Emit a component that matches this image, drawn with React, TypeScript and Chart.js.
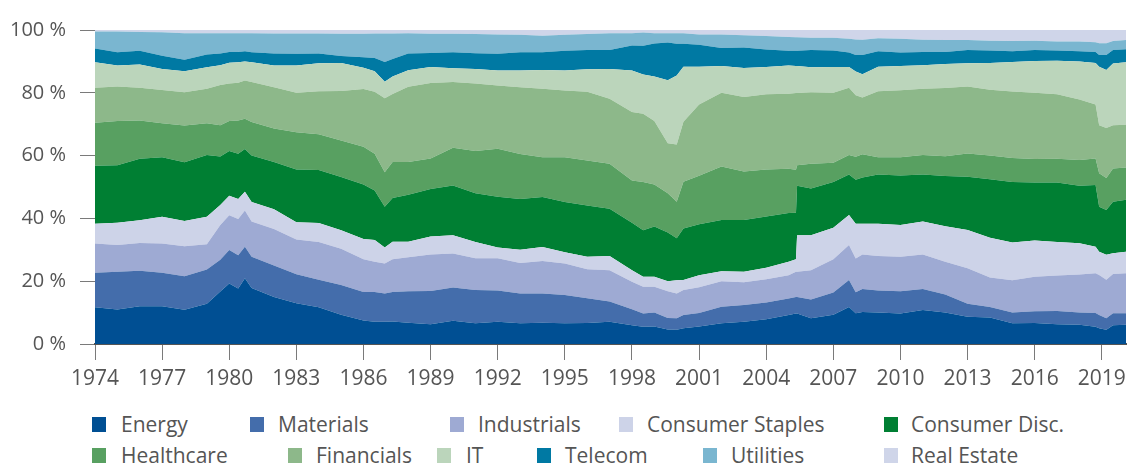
import React, { useEffect, useRef } from "react";
import { Chart, registerables } from "chart.js";

Chart.register(...registerables);

// Time points (decimal years)
const YEARS = [
  1974.0, 1975.0, 1976.0, 1977.0, 1978.0, 1979.0, 1979.6, 1980.0, 1980.4, 1980.7,
  1981.0, 1982.0, 1983.0, 1984.0, 1985.0, 1986.0, 1986.5, 1986.95, 1987.3, 1988.0,
  1989.0, 1990.0, 1991.0, 1992.0, 1993.0, 1994.0, 1995.0, 1996.0, 1997.0, 1998.0,
  1998.5, 1999.0, 1999.6, 2000.0, 2000.3, 2001.0, 2002.0, 2003.0, 2004.0, 2005.0,
  2005.33, 2005.38, 2006.0, 2007.0, 2007.7, 2008.0, 2008.3, 2009.0, 2010.0, 2011.0,
  2012.0, 2013.0, 2014.0, 2015.0, 2016.0, 2017.0, 2018.0, 2018.72, 2018.88, 2019.2,
  2019.5, 2020.08,
];

// Sector weights in %
const ENERGY = [
  11.7, 11.0, 12.0, 12.0, 10.9, 12.8, 16.7, 19.3, 17.7, 20.9,
  17.8, 15.0, 13.0, 11.7, 9.3, 7.5, 7.1, 7.1, 7.2, 6.8,
  6.3, 7.4, 6.6, 7.1, 6.6, 6.8, 6.6, 6.7, 7.1, 6.0,
  5.5, 5.6, 4.6, 4.5, 5.0, 5.6, 6.6, 7.1, 7.9, 9.2,
  9.7, 9.7, 8.2, 9.3, 11.8, 9.8, 10.2, 10.0, 9.7, 10.8,
  10.0, 8.7, 8.4, 6.6, 6.7, 6.3, 6.1, 5.5, 5.0, 4.5, 6.0, 6.1,
];
const MATERIALS = [
  11.0, 12.0, 11.3, 10.7, 10.7, 10.9, 10.1, 10.6, 10.6, 10.1,
  10.0, 10.0, 9.2, 8.8, 9.5, 9.1, 9.5, 9.0, 9.4, 10.0,
  10.6, 10.6, 10.6, 9.9, 9.5, 9.3, 9.0, 7.9, 6.4, 5.1,
  4.2, 4.4, 3.7, 3.7, 4.2, 4.3, 5.3, 5.3, 5.3, 5.3,
  5.3, 5.3, 6.0, 7.1, 8.6, 6.7, 7.3, 7.0, 7.1, 6.7,
  5.8, 4.1, 3.4, 3.4, 3.7, 4.2, 3.9, 4.4, 4.2, 3.7, 3.8, 3.7,
];
const INDUSTRIALS = [
  9.3, 8.5, 8.9, 9.3, 9.5, 8.1, 11.1, 11.1, 11.5, 11.5,
  11.2, 11.6, 11.1, 12.0, 11.5, 10.4, 9.6, 9.5, 10.4, 10.8,
  11.6, 10.8, 10.1, 10.3, 9.7, 10.3, 10.0, 9.2, 10.0, 8.7,
  8.5, 8.2, 8.5, 7.9, 8.0, 8.2, 8.1, 7.3, 7.4, 7.4,
  8.0, 8.0, 9.3, 10.6, 11.1, 10.7, 11.0, 11.0, 11.0, 11.0,
  10.4, 11.3, 9.4, 10.3, 11.0, 11.3, 12.1, 12.6, 12.8, 12.3, 12.5, 12.7,
];
const CONSUMER_STAPLES = [
  6.3, 7.1, 7.2, 8.5, 8.1, 8.7, 6.4, 6.2, 6.4, 6.0,
  6.2, 6.3, 5.5, 6.0, 5.9, 6.4, 6.9, 5.1, 5.6, 5.0,
  5.7, 5.8, 5.2, 3.4, 4.2, 4.5, 3.6, 4.0, 4.5, 3.7,
  3.2, 3.2, 3.2, 4.2, 3.2, 3.8, 3.2, 3.3, 3.7, 4.3,
  4.0, 11.6, 11.1, 10.0, 9.6, 11.1, 9.8, 10.3, 10.1, 10.5,
  11.3, 12.2, 12.6, 12.0, 11.6, 10.7, 10.0, 8.5, 7.4, 7.9, 6.6, 6.9,
];
const CONSUMER_DISC = [
  18.5, 18.3, 19.6, 19.0, 18.7, 19.7, 15.4, 14.3, 14.4, 13.6,
  14.8, 15.1, 16.8, 16.9, 17.0, 17.4, 15.8, 13.0, 13.9, 14.9,
  15.2, 15.9, 15.5, 16.2, 16.2, 15.9, 16.0, 16.3, 15.1, 15.1,
  14.8, 16.0, 15.5, 13.4, 16.4, 16.2, 16.3, 16.5, 16.3, 15.5,
  14.8, 15.8, 14.9, 14.6, 12.9, 14.0, 14.7, 15.7, 15.8, 15.0,
  16.0, 17.0, 18.7, 19.3, 18.4, 18.9, 18.3, 19.6, 14.3, 14.3, 16.4, 16.5,
];
const HEALTHCARE = [
  13.7, 14.1, 12.2, 10.8, 11.7, 10.1, 10.0, 9.5, 10.6, 9.6,
  10.7, 10.6, 11.8, 11.4, 11.6, 12.0, 11.7, 11.0, 11.5, 10.5,
  9.7, 12.0, 13.5, 15.3, 14.3, 12.7, 14.3, 14.3, 14.3, 13.5,
  15.4, 13.4, 12.5, 11.6, 14.9, 15.5, 17.0, 15.4, 15.0, 14.1,
  13.7, 6.5, 7.9, 6.1, 6.2, 7.3, 7.4, 5.5, 5.8, 6.2,
  6.3, 7.4, 7.5, 7.6, 7.5, 7.6, 8.2, 8.5, 10.7, 10.2, 10.6, 10.3,
];
const FINANCIALS = [
  11.1, 11.0, 10.4, 10.6, 10.6, 11.0, 12.8, 12.0, 12.0, 12.2,
  12.7, 13.2, 12.6, 13.7, 15.8, 18.4, 19.7, 23.6, 21.6, 23.9,
  24.0, 20.9, 21.5, 20.1, 21.3, 21.8, 21.2, 21.9, 20.7, 21.8,
  21.7, 20.2, 15.9, 18.2, 19.1, 22.7, 23.5, 23.8, 23.9, 23.9,
  24.4, 23.0, 22.8, 22.3, 21.4, 19.6, 18.1, 21.0, 21.3, 21.1,
  21.7, 21.3, 21.0, 21.2, 21.1, 20.5, 19.3, 17.2, 15.3, 15.9, 13.8, 13.6,
];
const IT = [
  8.1, 6.7, 7.4, 6.7, 6.7, 6.8, 6.3, 6.6, 6.5, 6.1,
  6.3, 6.9, 8.7, 8.9, 8.9, 6.8, 6.6, 5.2, 5.6, 5.3,
  5.1, 4.4, 4.6, 4.8, 5.3, 6.0, 6.4, 7.2, 9.5, 13.2,
  12.5, 14.2, 20.1, 22.0, 17.5, 12.0, 8.5, 9.2, 8.7, 9.0,
  8.6, 8.6, 7.9, 8.2, 6.6, 7.6, 7.4, 7.8, 7.7, 7.5,
  7.7, 7.4, 8.5, 9.4, 10.1, 10.7, 12.1, 13.2, 18.6, 18.5, 19.6, 19.9,
];
const TELECOM = [
  4.4, 4.2, 4.4, 4.2, 3.6, 4.1, 3.7, 3.4, 3.3, 3.2,
  3.2, 3.8, 3.7, 3.1, 2.2, 3.3, 4.2, 6.3, 5.6, 5.3,
  4.5, 5.1, 5.0, 5.3, 5.8, 5.6, 6.3, 6.1, 6.0, 8.0,
  9.2, 10.5, 12.0, 10.1, 7.3, 7.0, 5.8, 6.5, 5.6, 4.7,
  4.9, 4.9, 5.5, 5.3, 4.6, 5.2, 6.1, 4.9, 4.3, 4.2,
  3.8, 4.2, 4.0, 3.4, 3.5, 3.3, 3.2, 3.5, 3.7, 4.7, 4.3, 4.2,
];
const UTILITIES = [
  5.4, 6.6, 6.0, 7.5, 8.5, 6.8, 6.5, 6.0, 6.0, 5.8,
  6.1, 6.4, 6.5, 6.4, 7.1, 7.5, 7.8, 9.1, 8.1, 6.5,
  6.1, 5.9, 6.1, 6.2, 5.6, 5.3, 5.1, 5.1, 5.4, 3.9,
  4.2, 3.3, 3.0, 3.4, 3.4, 3.3, 4.3, 3.9, 4.3, 4.4,
  4.3, 4.3, 3.9, 4.0, 4.4, 5.0, 4.9, 4.2, 4.4, 3.9,
  3.8, 3.2, 3.1, 3.3, 3.0, 2.8, 3.1, 3.1, 3.8, 3.8, 2.9, 2.9,
];
const REAL_ESTATE = [
  0.5, 0.5, 0.6, 0.7, 1.0, 1.0, 1.0, 1.0, 1.0, 1.0,
  1.0, 1.1, 1.1, 1.1, 1.2, 1.2, 1.1, 1.1, 1.1, 1.0,
  1.2, 1.2, 1.3, 1.4, 1.5, 1.8, 1.5, 1.3, 1.0, 1.0,
  0.8, 1.0, 1.0, 1.0, 1.0, 1.4, 1.4, 1.7, 1.9, 2.2,
  2.3, 2.3, 2.5, 2.5, 2.8, 3.0, 3.1, 2.6, 2.8, 3.1,
  3.2, 3.2, 3.4, 3.5, 3.4, 3.7, 3.7, 3.9, 4.2, 4.2, 3.5, 3.2,
];

const SERIES_NAMES = [
  "Energy", "Materials", "Industrials", "Consumer Staples", "Consumer Disc.",
  "Healthcare", "Financials", "IT", "Telecom", "Utilities", "Real Estate",
];
const SERIES_VALUES = [
  ENERGY, MATERIALS, INDUSTRIALS, CONSUMER_STAPLES, CONSUMER_DISC,
  HEALTHCARE, FINANCIALS, IT, TELECOM, UTILITIES, REAL_ESTATE,
];
const COLORS = [
  "#004f93", "#446dab", "#9eaad3", "#cdd3e8", "#007f33",
  "#58a061", "#8db88a", "#bbd5bb", "#0079a3", "#7ab6d0", "#cfd5e9",
];

const X_TICKS = [1974, 1977, 1980, 1983, 1986, 1989, 1992, 1995, 1998, 2001, 2004, 2007, 2010, 2013, 2016, 2019];
const Y_TICKS = [0, 20, 40, 60, 80, 100];
const Y_TICK_LABELS = ["0 %", "20 %", "40 %", "60 %", "80 %", "100 %"];

const FONT_FAMILY = "'Open Sans', 'Noto Sans', sans-serif";
const TEXT_COLOR = "#555555";

// legend layout: [series index, square left, text left, row]
const LEGEND_LAYOUT: [number, number, number, number][] = [
  [0, 92, 121, 0], [1, 250, 278, 0], [2, 450, 478, 0], [3, 619, 647, 0], [4, 884, 911, 0],
  [5, 92, 121, 1], [6, 288, 316, 1], [7, 437, 466, 1], [8, 537, 565, 1], [9, 703, 731, 1], [10, 884, 911, 1],
];

export default function App() {
  const ref = useRef<HTMLCanvasElement>(null);

  useEffect(() => {
    const canvas = ref.current;
    if (!canvas) return;
    const datasets = SERIES_VALUES.map((vals, i) => ({
      label: SERIES_NAMES[i],
      data: YEARS.map((x, j) => ({ x, y: vals[j] })),
      backgroundColor: COLORS[i],
      borderColor: COLORS[i],
      borderWidth: 0,
      pointRadius: 0,
      tension: 0,
      fill: i === 0 ? "origin" : "-1",
    }));
    const chart = new Chart(canvas, {
      type: "line",
      data: { datasets } as any,
      options: {
        animation: false,
        responsive: false,
        maintainAspectRatio: false,
        events: [],
        layout: { padding: { top: 30, right: 1, left: 0, bottom: 0 } },
        plugins: { legend: { display: false }, tooltip: { enabled: false } },
        scales: {
          x: {
            type: "linear",
            min: 1974,
            max: 2020.08,
            afterBuildTicks: (s: any) => {
              s.ticks = X_TICKS.map((v) => ({ value: v }));
            },
            afterFit: (s: any) => {
              s.height = 56;
              s.paddingLeft = 0;
              s.paddingRight = 0;
            },
            ticks: {
              autoSkip: false,
              maxRotation: 0,
              padding: 6,
              color: TEXT_COLOR,
              font: { family: FONT_FAMILY, size: 21, weight: "normal" as any },
              callback: (v: any) => String(v),
            },
            grid: { drawOnChartArea: false, drawTicks: true, tickLength: 16, color: "#7a7a7a", lineWidth: 1 },
            border: { display: true, color: "#555555", width: 2 },
          },
          y: {
            stacked: true,
            min: 0,
            max: 100,
            afterBuildTicks: (s: any) => {
              s.ticks = Y_TICKS.map((v) => ({ value: v }));
            },
            afterFit: (s: any) => {
              s.width = 95;
            },
            ticks: {
              padding: 14,
              color: TEXT_COLOR,
              font: { family: FONT_FAMILY, size: 20, weight: "normal" as any },
              callback: (v: any) => {
                const k = Y_TICKS.indexOf(Number(v));
                return k >= 0 ? Y_TICK_LABELS[k] : "";
              },
            },
            grid: { drawOnChartArea: false, drawTicks: true, tickLength: 15, color: "#7a7a7a", lineWidth: 1 },
            border: { display: false },
          },
        },
      } as any,
    });
    return () => chart.destroy();
  }, []);

  return (
    <div style={{ position: "absolute", left: 0, top: 0, width: 1127, height: 466, background: "#fff", overflow: "hidden" }}>
      <canvas ref={ref} width={1127} height={400} style={{ position: "absolute", left: 0, top: 0, width: 1127, height: 400 }} />
      {LEGEND_LAYOUT.map(([idx, sq, tx, row]) => (
        <React.Fragment key={idx}>
          <div
            style={{
              position: "absolute",
              left: sq,
              top: row === 0 ? 417 : 448,
              width: 14,
              height: 15,
              background: COLORS[idx],
            }}
          />
          <div
            style={{
              position: "absolute",
              left: tx,
              top: row === 0 ? 414 : 445,
              fontFamily: FONT_FAMILY,
              fontWeight: 400,
              fontSize: 21,
              lineHeight: "21px",
              color: TEXT_COLOR,
              whiteSpace: "nowrap",
            }}
          >
            {SERIES_NAMES[idx]}
          </div>
        </React.Fragment>
      ))}
    </div>
  );
}
